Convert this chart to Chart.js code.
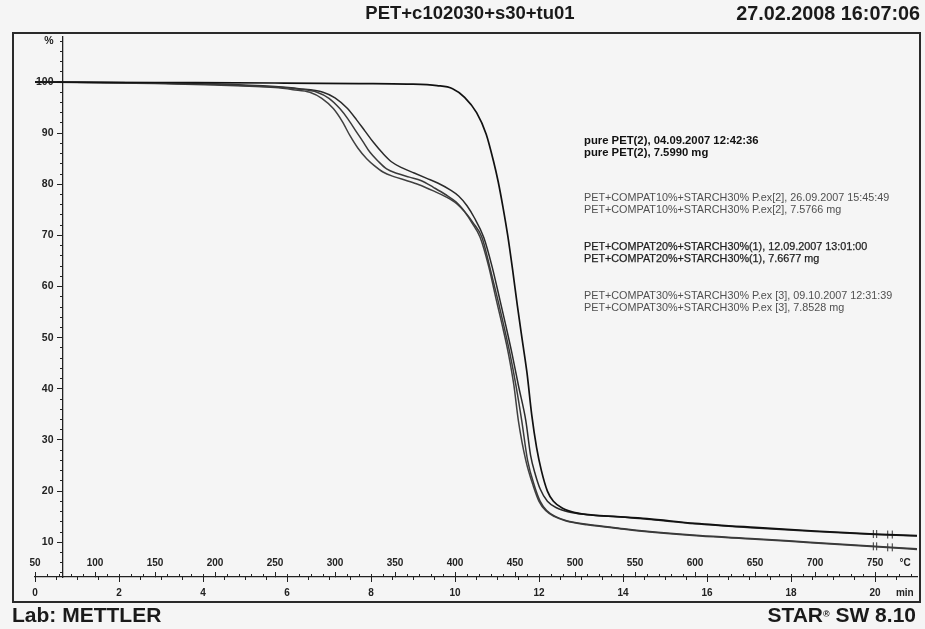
<!DOCTYPE html>
<html>
<head>
<meta charset="utf-8">
<script src="https://cdn.jsdelivr.net/npm/chart.js@4/dist/chart.umd.min.js"></script>
<style>
  html, body { margin: 0; padding: 0; background: #f5f5f5; }
  #wrap { position: relative; width: 925px; height: 629px; font-family: "Liberation Sans", Arial, sans-serif; color: #1a1a1a; }
  #chart { position: absolute; left: 0; top: 0; }
  .frame { position: absolute; left: 12px; top: 32px; width: 905px; height: 567px; border: 2px solid #2a2a2a; }
  .txt { position: absolute; white-space: nowrap; line-height: 1; }
  .head { font-weight: bold; top: 4px; }
  .foot { font-weight: bold; font-size: 21px; top: 604px; }
  .leg { left: 584px; font-size: 10.8px; color: #505050; }
  .leg.b { font-weight: bold; font-size: 11.3px; color: #111; }
  .leg.d { color: #1e1e1e; -webkit-text-stroke: 0.25px #1e1e1e; }
</style>
</head>
<body>
<div id="wrap">
  <div class="frame"></div>
  <canvas id="chart" width="925" height="629"></canvas>

  <div class="txt head" style="left:470px; transform:translateX(-50%); font-size:18.5px;">PET+c102030+s30+tu01</div>
  <div class="txt head" style="right:5px; font-size:19.8px;">27.02.2008 16:07:06</div>

  <div class="txt leg b" style="top:135px;">pure PET(2), 04.09.2007 12:42:36</div>
  <div class="txt leg b" style="top:147px;">pure PET(2), 7.5990 mg</div>
  <div class="txt leg" style="top:192px;">PET+COMPAT10%+STARCH30% P.ex[2], 26.09.2007 15:45:49</div>
  <div class="txt leg" style="top:204px;">PET+COMPAT10%+STARCH30% P.ex[2], 7.5766 mg</div>
  <div class="txt leg d" style="top:241px;">PET+COMPAT20%+STARCH30%(1), 12.09.2007 13:01:00</div>
  <div class="txt leg d" style="top:253px;">PET+COMPAT20%+STARCH30%(1), 7.6677 mg</div>
  <div class="txt leg" style="top:290px;">PET+COMPAT30%+STARCH30% P.ex [3], 09.10.2007 12:31:39</div>
  <div class="txt leg" style="top:302px;">PET+COMPAT30%+STARCH30% P.ex [3], 7.8528 mg</div>

  <div class="txt foot" style="left:12px;">Lab: METTLER</div>
  <div class="txt foot" style="right:9px;">STAR<span style="font-size:9px; vertical-align:5px;">&#174;</span> SW 8.10</div>
</div>

<script>
// temperature (°C) / mass (%)
const petT = [50, 150, 250, 320, 360, 385, 398, 408, 418, 426, 432, 436, 440, 444, 448, 452, 456, 460, 464, 468, 472, 477, 482, 490, 500, 515, 535, 560, 600, 650, 700, 750, 785];
const petW = [100.0, 99.9, 99.8, 99.7, 99.6, 99.3, 98.7, 97.0, 94.0, 89.8, 84.6, 80.5, 75.5, 69.9, 63.3, 56.2, 49.6, 43.1, 34.8, 28.5, 24.0, 20.0, 18.0, 16.6, 15.8, 15.3, 15.0, 14.6, 13.7, 12.9, 12.2, 11.6, 11.3];

const c10T = [50, 150, 200, 250, 270, 285, 295, 304, 311, 318, 324, 329, 336, 343, 352, 362, 372, 382, 392, 401, 408, 415, 422.5, 429, 435.8, 441, 445.8, 451, 455.6, 460.5, 466.5, 471, 476.4, 484, 493, 510, 532, 562, 604, 650, 696, 750, 785];
const c10W = [100.0, 99.8, 99.5, 99.0, 98.6, 98.0, 96.8, 94.8, 92.7, 90.2, 88.1, 86.3, 84.5, 83.0, 82.1, 81.4, 80.7, 79.4, 78.0, 76.5, 74.7, 72.5, 69.6, 63.8, 57.3, 52.0, 46.9, 40.4, 33.8, 26.0, 20.8, 18.0, 16.2, 15.0, 14.2, 13.5, 12.9, 12.1, 11.3, 10.7, 10.0, 9.2, 8.7];

const c20T = [50, 150, 200, 250, 270, 290, 300, 310, 318, 325, 332, 340, 347, 356, 366, 376, 386, 396, 403, 410, 416, 424, 431, 437.5, 442.5, 447.5, 453, 459, 463, 467, 471, 477, 485, 495, 505, 520, 535, 560, 600, 650, 700, 750, 785];
const c20W = [100.0, 99.8, 99.6, 99.1, 98.7, 98.0, 96.9, 94.9, 92.6, 90.4, 88.2, 86.0, 84.4, 83.2, 82.2, 81.2, 80.2, 78.9, 77.7, 75.8, 73.5, 69.6, 63.8, 57.3, 52.2, 46.9, 40.5, 33.8, 27.0, 23.2, 20.4, 18.0, 16.7, 15.9, 15.5, 15.2, 15.0, 14.5, 13.6, 12.8, 12.1, 11.5, 11.2];

const c30T = [50, 150, 200, 250, 265, 279, 289, 298.6, 306, 312.5, 319, 326.4, 333, 340, 349, 360, 370, 382, 392, 401.4, 408, 414, 421, 428, 434.5, 440, 444.5, 449, 452.8, 459, 465.5, 470, 475.5, 483, 492, 510, 532, 562, 604, 650, 696, 750, 785];
const c30W = [100.0, 99.7, 99.4, 98.9, 98.5, 98.0, 96.8, 94.8, 92.3, 89.5, 87.1, 85.0, 83.6, 82.4, 81.5, 80.7, 79.9, 78.7, 77.6, 76.2, 74.6, 72.5, 69.6, 64.0, 57.3, 51.8, 46.9, 40.8, 33.8, 26.0, 20.8, 18.0, 16.2, 15.0, 14.2, 13.4, 12.8, 12.0, 11.2, 10.6, 9.9, 9.1, 8.6];

// end-of-segment marks near 750 °C
const markT = [748.6, 751.4, 760.6, 764.4];
const markUpperW = [11.6, 11.6, 11.5, 11.5];
const markLowerW = [9.2, 9.2, 9.0, 9.0];

// axis ticks
const tempTicks = [50, 100, 150, 200, 250, 300, 350, 400, 450, 500, 550, 600, 650, 700, 750];
const timeTicks = [0, 2, 4, 6, 8, 10, 12, 14, 16, 18, 20];
const yTicks = [10, 20, 30, 40, 50, 60, 70, 80, 90, 100];
const tempUnitAt = 775;    // where "°C" sits
const timeUnitAt = 20.71;  // where "min" sits
const yUnitAt = 108;       // where "%" sits

const pts = (ts, ws) => ts.map((t, i) => ({ x: t, y: ws[i] }));
const range = (a, b, s) => { const out = []; for (let v = a; v <= b + 1e-9; v += s) out.push(+v.toFixed(3)); return out; };
const setTicks = list => s => { s.ticks = list.map(v => ({ value: v })); };
const fixHeight = h => s => { s.height = h; };

const INK = '#222';
const axisFont = { family: '"Liberation Sans", Arial, sans-serif', weight: 'bold', size: 10 };

const curve = (label, data, color, width) => ({
  label, data, borderColor: color, borderWidth: width,
  pointRadius: 0, fill: false, cubicInterpolationMode: 'monotone'
});
const marks = data => ({
  data, showLine: false, pointStyle: 'line', rotation: 90, pointRadius: 4,
  borderColor: '#333', borderWidth: 1
});

new Chart(document.getElementById('chart'), {
  type: 'line',
  data: {
    datasets: [
      curve('pure PET(2)', pts(petT, petW), '#111', 1.7),
      curve('PET+COMPAT10%+STARCH30% P.ex[2]', pts(c10T, c10W), '#3a3a3a', 1.5),
      curve('PET+COMPAT20%+STARCH30%(1)', pts(c20T, c20W), '#2a2a2a', 1.5),
      curve('PET+COMPAT30%+STARCH30% P.ex [3]', pts(c30T, c30W), '#404040', 1.5),
      marks(pts(markT, markUpperW)),
      marks(pts(markT, markLowerW))
    ]
  },
  options: {
    responsive: false,
    animation: false,
    layout: { padding: { left: 35, right: 8, top: 37, bottom: 24 } },
    plugins: { legend: { display: false }, tooltip: { enabled: false } },
    scales: {
      x: {
        type: 'linear', position: 'bottom', weight: 0, min: 50, max: 785,
        afterBuildTicks: setTicks(tempTicks.concat([tempUnitAt])),
        afterFit: fixHeight(0),
        grid: { drawOnChartArea: false, drawTicks: true, tickLength: -5, tickWidth: 1,
                tickColor: c => (c.tick && c.tick.value === tempUnitAt) ? 'rgba(0,0,0,0)' : INK },
        border: { display: true, color: INK, width: 1.3 },
        ticks: { mirror: true, padding: 8, autoSkip: false, maxRotation: 0, color: INK, font: axisFont,
                 callback: v => v === tempUnitAt ? '°C' : v }
      },
      xMinor: {
        type: 'linear', position: 'bottom', weight: 1, min: 50, max: 785,
        afterBuildTicks: setTicks(range(60, 780, 10)),
        afterFit: fixHeight(0),
        grid: { drawOnChartArea: false, drawTicks: true, tickLength: -3, tickColor: INK },
        border: { display: false },
        ticks: { display: false }
      },
      xTimeMinor: {
        type: 'linear', position: 'bottom', weight: 2, min: 0, max: 21,
        afterBuildTicks: setTicks(range(0.5, 20.5, 0.5)),
        afterFit: fixHeight(0),
        grid: { drawOnChartArea: false, drawTicks: true, tickLength: 3, tickColor: INK },
        border: { display: false },
        ticks: { display: false }
      },
      xTime: {
        type: 'linear', position: 'bottom', weight: 3, min: 0, max: 21,
        afterBuildTicks: setTicks(timeTicks.concat([timeUnitAt])),
        afterFit: fixHeight(28),
        grid: { drawOnChartArea: false, drawTicks: true, tickLength: 5, tickWidth: 1,
                tickColor: c => (c.tick && c.tick.value === timeUnitAt) ? 'rgba(0,0,0,0)' : INK },
        border: { display: false },
        ticks: { padding: 5, autoSkip: false, maxRotation: 0, color: INK, font: axisFont,
                 callback: v => v === timeUnitAt ? 'min' : v }
      },
      y: {
        type: 'linear', position: { x: 73.3 }, min: 3.2, max: 108.8,
        afterBuildTicks: setTicks(yTicks),
        grid: { drawOnChartArea: false, drawTicks: true, tickLength: 5, tickColor: INK },
        border: { display: true, color: INK, width: 1.3 },
        ticks: { display: false }
      },
      yMinor: {
        type: 'linear', position: { x: 73.3 }, min: 3.2, max: 108.8,
        afterBuildTicks: setTicks(range(4, 108, 2)),
        grid: { drawOnChartArea: false, drawTicks: true, tickLength: 3, tickColor: INK },
        border: { display: false },
        ticks: { display: false }
      },
      yLab: {
        type: 'linear', position: { x: 65.4 }, min: 3.2, max: 108.8,
        afterBuildTicks: setTicks(yTicks.concat([yUnitAt])),
        grid: { display: false, drawTicks: false },
        border: { display: false },
        ticks: { padding: 0, color: INK, font: { ...axisFont, size: 10.5 },
                 callback: v => v === yUnitAt ? '%' : v }
      }
    }
  }
});
</script>
</body>
</html>
